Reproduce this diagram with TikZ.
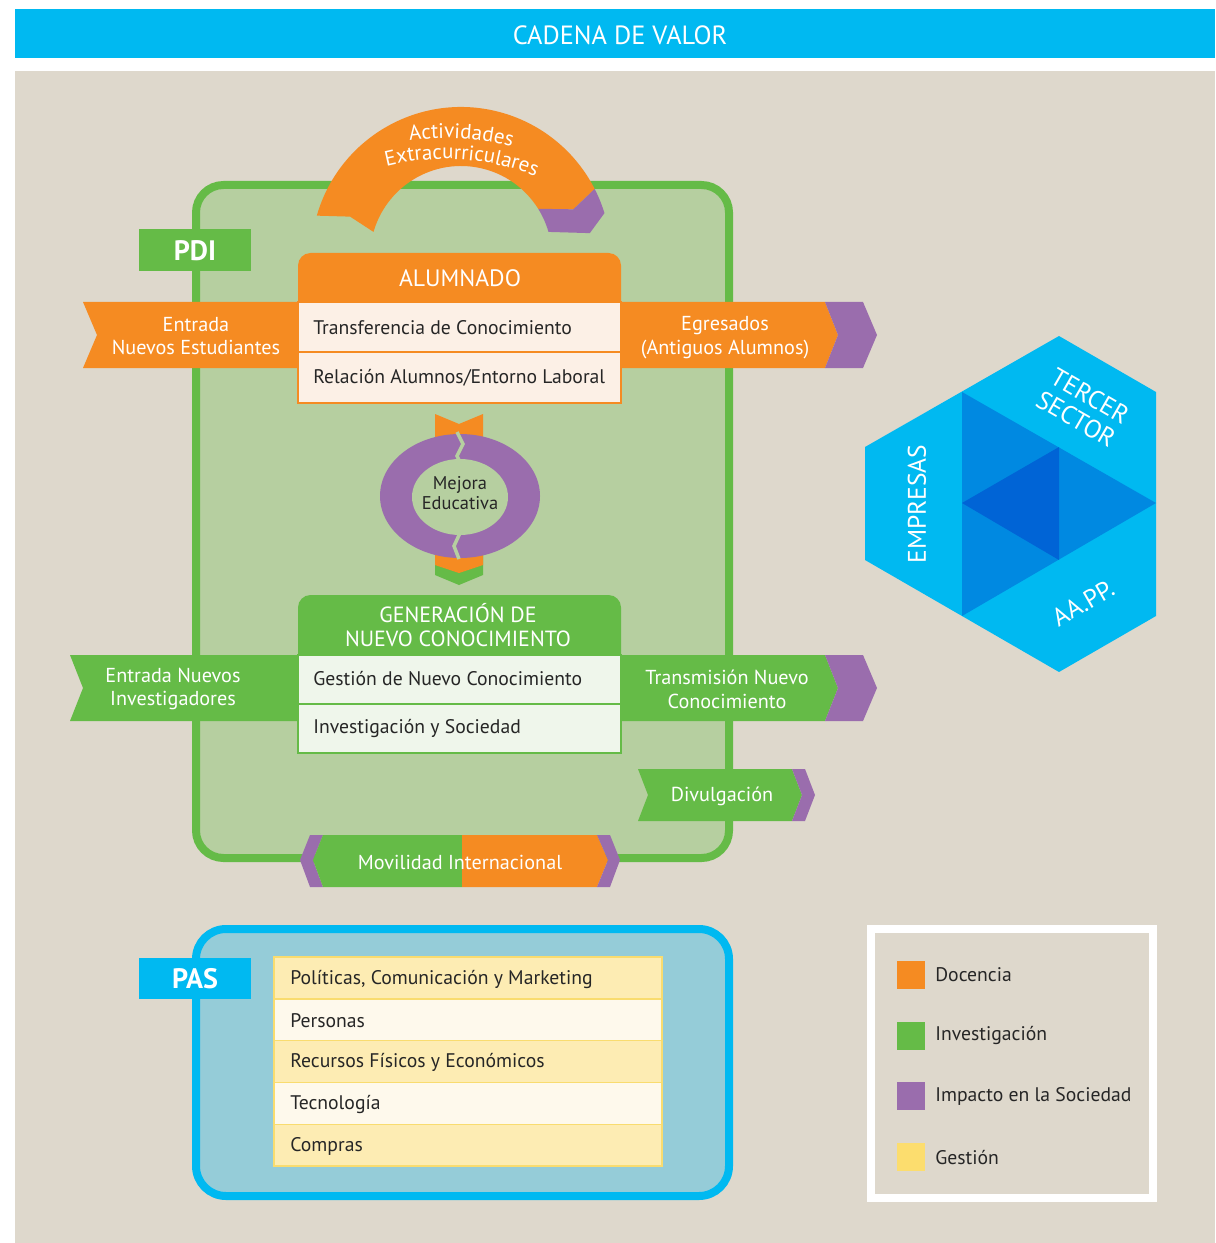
\documentclass[tikz,border=0pt]{standalone}
\usepackage{fontspec}
\setmainfont{PT Sans}
\usetikzlibrary{decorations.text}
\definecolor{Celeste}{HTML}{00B9F1}
\definecolor{Fondo}{HTML}{DED8CC}
\definecolor{Docencia}{HTML}{F58B22}
\definecolor{Investig}{HTML}{65BB47}
\definecolor{Impacto}{HTML}{9A6DAD}
\definecolor{Gestion}{HTML}{FCDD6E}
\definecolor{VerdeClaro}{HTML}{B6CFA0}
\definecolor{PasFondo}{HTML}{95CCD8}
\definecolor{FilaNaranja}{HTML}{FCF0E6}
\definecolor{FilaVerde}{HTML}{EFF6EB}
\definecolor{FilaAmarilla}{HTML}{FDECB3}
\definecolor{FilaCrema}{HTML}{FEF9EC}
\definecolor{BordeAmarillo}{HTML}{F9DC6F}
\definecolor{AzulMedio}{HTML}{0089E1}
\definecolor{AzulOscuro}{HTML}{0064D6}
\definecolor{Texto}{HTML}{262626}

\begin{document}
\begin{tikzpicture}[x=0.02cm,y=-0.02cm,
  blanco/.style={text=white,align=center,inner sep=0pt,font=\fontsize{11.5}{13.6}\selectfont},
  fila/.style={anchor=west,text=Texto,inner sep=0pt,font=\fontsize{11.2}{13.6}\selectfont},
  cabecera/.style={text=white,align=center,inner sep=0pt,font=\fontsize{13.5}{13.6}\selectfont},
  etiqueta/.style={text=white,inner sep=0pt,font=\fontsize{16}{18}\bfseries\selectfont},
  hexa/.style={text=white,align=center,inner sep=0pt,font=\fontsize{14.5}{15}\selectfont}]
\useasboundingbox (0,0) rectangle (1215,1243);
\fill[white] (0,0) rectangle (1215,1243);
\fill[Fondo] (15,71) rectangle (1215,1243);
\fill[Celeste] (15,9) rectangle (1215,58);
\node[blanco,font=\fontsize{15}{16}\selectfont] (titulo) at (620,35) {CADENA DE VALOR};

% marco PDI
\draw[Investig,fill=VerdeClaro,line width=0.16cm,rounded corners=0.55cm] (196,185) rectangle (729,858);

% arco de actividades
\begin{scope}[shift={(461,257)}]
\fill[Docencia] (-164:150) arc[start angle=-164,end angle=-27,radius=150] -- (-23:122) -- (-32:91)
  arc[start angle=-32,end angle=-164,radius=91] -- (-160:118) -- cycle;
\fill[Impacto] (-27:150) arc[start angle=-27,end angle=-17,radius=150] -- (-10.5:131) -- (-16:91)
  arc[start angle=-16,end angle=-32,radius=91] -- (-23:122) -- cycle;
\end{scope}
\begin{scope}[shift={(445,400)}]
\path[decorate,decoration={text along path,text align=center,
  text={|\color{white}\fontsize{12}{13}\selectfont|Actividades}}] (-111.5:262) arc[start angle=-111.5,end angle=-61.5,radius=262];
\path[decorate,decoration={text along path,text align=center,
  text={|\color{white}\fontsize{12}{13}\selectfont|Extracurriculares}}] (-111:241) arc[start angle=-111,end angle=-61,radius=241];
\end{scope}

\fill[Investig] (139,229) rectangle (251,271);
\node[etiqueta] (pdi) at (195,251) {PDI};

% franjas de entrada y salida
\fill[Docencia] (83,302) -- (825,302) -- (838,335) -- (825,368) -- (83,368) -- (97,335) -- cycle;
\fill[Impacto] (825,302) -- (863,302) -- (877,335) -- (863,368) -- (825,368) -- (838,335) -- cycle;
\node[blanco] (entrada) at (196,336) {Entrada\\Nuevos Estudiantes};
\node[blanco] (egresados) at (725,338) {Egresados\\(Antiguos Alumnos)};

\fill[Investig] (70,655) -- (825,655) -- (838,688) -- (825,721) -- (70,721) -- (83,688) -- cycle;
\fill[Impacto] (825,655) -- (863,655) -- (877,688) -- (863,721) -- (825,721) -- (838,688) -- cycle;
\node[blanco] (investigadores) at (173,689) {Entrada Nuevos\\Investigadores};
\node[blanco] (transmision) at (727,689) {Transmisión Nuevo\\Conocimiento};

% alumnado
\fill[Docencia,rounded corners=0.25cm] (298,253) rectangle (621,320);
\filldraw[fill=FilaNaranja,draw=Docencia,line width=0.8pt] (298,302) rectangle (621,352) (298,352) rectangle (621,403);
\node[cabecera] (alumnado) at (460,278) {ALUMNADO};
\node[fila] (transferencia) at (313,328) {Transferencia de Conocimiento};
\node[fila] (relacion) at (313,378) {Relación Alumnos/Entorno Laboral};

% mejora educativa
\fill[Docencia] (435,414) -- (459,424) -- (483,414) -- (483,450) -- (435,450) -- cycle;
\fill[Investig] (435,545) -- (483,545) -- (483,575) -- (459,585) -- (435,575) -- cycle;
\fill[Docencia] (435,545) -- (483,545) -- (483,565) -- (459,573) -- (435,565) -- cycle;
\fill[Impacto] (460,496) ellipse[x radius=80,y radius=62];
\fill[VerdeClaro] (460,497) ellipse[x radius=48,y radius=38];
\draw[VerdeClaro,line width=0.07cm] (457,432) -- (463,444) -- (457,456) -- (459,460);
\draw[VerdeClaro,line width=0.07cm] (460,533) -- (454,546) -- (459,559);
\node[fila,anchor=center,align=center,font=\fontsize{10.5}{11.5}\selectfont] (mejora) at (460,493) {Mejora\\Educativa};

% generacion de conocimiento
\fill[Investig,rounded corners=0.25cm] (298,595) rectangle (621,672);
\filldraw[fill=FilaVerde,draw=Investig,line width=0.8pt] (298,655) rectangle (621,704) (298,704) rectangle (621,753);
\node[cabecera,font=\fontsize{12.5}{13.6}\selectfont] (generacion) at (458,625) {GENERACIÓN DE\\NUEVO CONOCIMIENTO};
\node[fila] (gestion) at (313,679) {Gestión de Nuevo Conocimiento};
\node[fila] (sociedad) at (313,728) {Investigación y Sociedad};

% divulgacion y movilidad
\fill[Investig] (638,769) -- (792,769) -- (802,795) -- (792,821) -- (638,821) -- (648,795) -- cycle;
\fill[Impacto] (792,769) -- (805,769) -- (815,795) -- (805,821) -- (792,821) -- (802,795) -- cycle;
\node[blanco] (divulgacion) at (722,796) {Divulgación};

\fill[Impacto] (300,860) -- (310,835) -- (323,835) -- (313,860) -- (323,887) -- (310,887) -- cycle;
\fill[Investig] (323,835) -- (462,835) -- (462,887) -- (323,887) -- (313,860) -- cycle;
\fill[Docencia] (462,835) -- (597,835) -- (608,860) -- (597,887) -- (462,887) -- cycle;
\fill[Impacto] (597,835) -- (610,835) -- (620,860) -- (610,887) -- (597,887) -- (608,860) -- cycle;
\node[blanco] (movilidad) at (460,862) {Movilidad Internacional};

% hexagono de agentes
\fill[Celeste] (865,447) -- (1059,336) -- (1156,392) -- (1156,616) -- (1059,672) -- (865,560) -- cycle;
\fill[AzulMedio] (962,392) -- (1156,503) -- (962,616) -- cycle;
\fill[AzulOscuro] (962,503) -- (1059,447) -- (1059,560) -- cycle;
\node[hexa,rotate=90] (empresas) at (917,504) {EMPRESAS};
\node[hexa,rotate=-30] (tercer) at (1090,396) {TERCER};
\node[hexa,rotate=-30] (sector) at (1076,419) {SECTOR};
\node[hexa,rotate=30] (aapp) at (1083,603) {AA.PP.};

% PAS
\draw[Celeste,fill=PasFondo,line width=0.16cm,rounded corners=0.6cm] (196,929) rectangle (729,1196);
\fill[Celeste] (139,958) rectangle (251,999);
\node[etiqueta] (pas) at (195,979) {PAS};
\foreach \txt [count=\i] in {{Políticas, Comunicación y Marketing},Personas,{Recursos Físicos y Económicos},Tecnología,Compras}{
  \pgfmathsetmacro{\ya}{957+(\i-1)*41.8}
  \ifodd\i \def\relleno{FilaAmarilla}\else \def\relleno{FilaCrema}\fi
  \filldraw[fill=\relleno,draw=BordeAmarillo,line width=0.8pt] (274,\ya) rectangle (662,\ya+41.8);
  \node[fila] (pas\i) at (290,\ya+22) {\txt};
}

% leyenda
\draw[white,line width=0.16cm] (871,929) rectangle (1153,1198);
\foreach \col/\txt [count=\i] in {Docencia/Docencia,Investig/Investigación,Impacto/Impacto en la Sociedad,Gestion/Gestión}{
  \pgfmathsetmacro{\yb}{961+(\i-1)*60.7}
  \fill[\col] (897,\yb) rectangle (925,\yb+28);
  \node[fila] (ley\i) at (935,\yb+14) {\txt};
}
\end{tikzpicture}
\end{document}
